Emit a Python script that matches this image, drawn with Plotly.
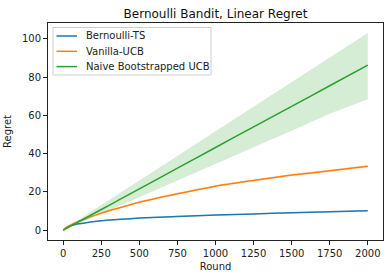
import plotly.graph_objects as go

rounds = [0, 25, 50, 100, 150, 250, 375, 500, 750, 1000, 1250, 1500, 1750, 2000]

ts_mean = [0, 1.6, 2.4, 3.3, 3.9, 4.9, 5.7, 6.3, 7.2, 7.9, 8.5, 9.1, 9.6, 10.2]
ts_upper = [0, 1.7, 2.6, 3.5, 4.1, 5.1, 5.9, 6.6, 7.5, 8.2, 8.8, 9.4, 9.9, 10.5]
ts_lower = [0, 1.5, 2.2, 3.1, 3.7, 4.7, 5.5, 6.0, 6.9, 7.6, 8.2, 8.8, 9.3, 9.9]

ucb_mean = [0, 1.6, 2.8, 4.6, 6.1, 8.9, 11.8, 14.6, 19.0, 23.0, 26.0, 28.8, 31.0, 33.4]
ucb_upper = [0, 1.7, 3.0, 4.9, 6.4, 9.3, 12.2, 15.0, 19.5, 23.5, 26.5, 29.4, 31.6, 34.0]
ucb_lower = [0, 1.5, 2.6, 4.3, 5.8, 8.5, 11.4, 14.2, 18.5, 22.5, 25.5, 28.2, 30.4, 32.8]

nb_mean = [0, 1.1, 2.2, 4.3, 6.5, 10.8, 16.2, 21.6, 32.4, 43.2, 54.0, 64.7, 75.5, 86.3]
nb_upper = [0, 1.4, 2.8, 5.3, 8.0, 13.2, 19.5, 25.9, 38.8, 51.7, 64.6, 77.4, 90.3, 103.1]
nb_lower = [0, 0.8, 1.7, 3.4, 5.0, 8.4, 12.9, 17.3, 26.0, 34.7, 43.4, 52.0, 60.8, 68.5]

x_ticks = [0, 250, 500, 750, 1000, 1250, 1500, 1750, 2000]
y_ticks = [0, 20, 40, 60, 80, 100]

names = ["Bernoulli-TS", "Vanilla-UCB", "Naive Bootstrapped UCB"]
colors = ["#1f77b4", "#ff7f0e", "#2ca02c"]
fills = ["rgba(31,119,180,0.2)", "rgba(255,127,14,0.2)", "rgba(44,160,44,0.2)"]
series = [(ts_mean, ts_upper, ts_lower), (ucb_mean, ucb_upper, ucb_lower), (nb_mean, nb_upper, nb_lower)]

W, H = 392, 278
ML, MR, MT, MB = 48, 9, 23, 38
PW, PH = W - ML - MR, H - MT - MB


def px(xp):
    return (xp - ML) / PW


def py(yp):
    return (H - MB - yp) / PH


fig = go.Figure()
for (m, u, l), name, c, f in zip(series, names, colors, fills):
    fig.add_trace(go.Scatter(x=rounds, y=u, mode="lines", line=dict(width=0),
                             showlegend=False, hoverinfo="skip"))
    fig.add_trace(go.Scatter(x=rounds, y=l, mode="lines", line=dict(width=0),
                             fill="tonexty", fillcolor=f, showlegend=False, hoverinfo="skip"))
for (m, u, l), name, c in zip(series, names, colors):
    fig.add_trace(go.Scatter(x=rounds, y=m, mode="lines", name=name, showlegend=False,
                             line=dict(color=c, width=1.5, shape="spline", smoothing=0.6)))

font = "DejaVu Sans, sans-serif"

# legend drawn as shapes + text
fig.add_shape(type="rect", xref="paper", yref="paper",
              x0=px(53), x1=px(211), y0=py(75), y1=py(27.5),
              line=dict(color="#cccccc", width=1), fillcolor="rgba(255,255,255,0.8)",
              layer="above")
for i, (name, c) in enumerate(zip(names, colors)):
    yy = 36 + i * 15.3
    fig.add_shape(type="line", xref="paper", yref="paper",
                  x0=px(56.5), x1=px(77), y0=py(yy), y1=py(yy),
                  line=dict(color=c, width=1.5), layer="above")
    fig.add_annotation(text=name, xref="paper", yref="paper", x=px(84), y=py(yy),
                       xanchor="left", yanchor="middle", showarrow=False,
                       font=dict(family=font, size=10, color="#222"))

axis_common = dict(showgrid=False, zeroline=False, showline=True, linecolor="#222",
                   linewidth=1, mirror=True, ticks="outside", ticklen=4, tickwidth=1,
                   tickcolor="#222", automargin=False,
                   tickfont=dict(family=font, size=10, color="#222"))

fig.update_layout(
    width=W, height=H,
    margin=dict(l=ML, r=MR, t=MT, b=MB, autoexpand=False),
    paper_bgcolor="white", plot_bgcolor="white",
    font=dict(family=font, size=10, color="#222"),
    title=dict(text="Bernoulli Bandit, Linear Regret", x=0.5, xref="paper",
               y=1 - 13.5 / H, yref="container", yanchor="middle",
               font=dict(family=font, size=12, color="#111")),
    xaxis=dict(range=[-100, 2100], tickvals=x_ticks,
               title=dict(text="Round", standoff=4, font=dict(size=10)), **axis_common),
    yaxis=dict(range=[-5.15, 108.3], tickvals=y_ticks,
               title=dict(text="Regret", standoff=8, font=dict(size=10)), **axis_common),
    showlegend=False,
)

fig.write_html("out.html", config={"displayModeBar": False},
               post_script="document.body.style.margin='0px';")
